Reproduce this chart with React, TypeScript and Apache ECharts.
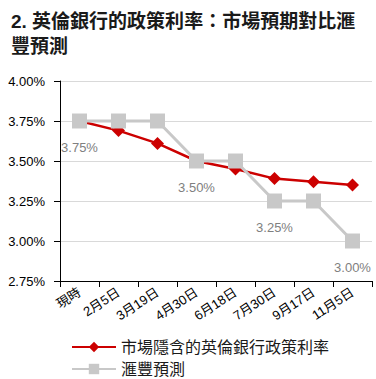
import React, { useEffect, useRef } from "react";
import * as echarts from "echarts";

const titleText = "2. 英倫銀行的政策利率：市場預期對比滙\n豐預測";
const categories = ["現時", "2月5日", "3月19日", "4月30日", "6月18日", "7月30日", "9月17日", "11月5日"];
const marketName = "市場隱含的英倫銀行政策利率";
const marketValues = [3.75, 3.69, 3.61, 3.5, 3.45, 3.39, 3.37, 3.35];
const hsbcName = "滙豐預測";
const hsbcValues = [3.75, 3.75, 3.75, 3.5, 3.5, 3.25, 3.25, 3.0];
const hsbcLabelIdx = [0, 3, 5, 7];
const yTicks = { min: 2.75, max: 4.0, interval: 0.25 };

const FONT = '"Liberation Sans", Arial, "Noto Sans CJK TC", sans-serif';

const legendBase = {
  orient: "horizontal",
  left: 66,
  itemWidth: 44,
  itemHeight: 13,
  textStyle: { fontSize: 16, color: "#1a1a1a", fontFamily: FONT },
};

export default function App() {
  const ref = useRef<HTMLDivElement>(null);
  useEffect(() => {
    const chart = echarts.init(ref.current!, null, { renderer: "svg" });
    chart.setOption({
      animation: false,
      textStyle: { fontFamily: FONT },
      title: {
        text: titleText,
        left: 6,
        top: 4,
        textStyle: { fontSize: 19, fontWeight: "bold", color: "#1a1a1a", lineHeight: 25, fontFamily: FONT },
      },
      grid: { left: 60, right: 4, top: 81, bottom: 98 },
      legend: [
        { ...legendBase, top: 334, data: [marketName] },
        { ...legendBase, top: 356, data: [hsbcName] },
      ],
      xAxis: {
        type: "category",
        data: categories,
        boundaryGap: true,
        axisLine: { lineStyle: { color: "#000", width: 1 } },
        axisTick: { show: true, length: 6, lineStyle: { color: "#000" } },
        axisLabel: { interval: 0, rotate: 33, fontSize: 13, color: "#000", margin: 10, fontFamily: FONT },
        splitLine: { show: false },
      },
      yAxis: {
        type: "value",
        min: yTicks.min,
        max: yTicks.max,
        interval: yTicks.interval,
        axisLine: { show: true, lineStyle: { color: "#000", width: 1 } },
        axisTick: { show: true, length: 6, lineStyle: { color: "#000" } },
        axisLabel: {
          fontSize: 13,
          color: "#000",
          margin: 15,
          fontFamily: FONT,
          formatter: (v: number) => v.toFixed(2) + "%",
        },
        splitLine: { show: true, lineStyle: { color: "#d9d9d9", width: 1 } },
      },
      series: [
        {
          name: marketName,
          type: "line",
          data: marketValues,
          symbol: "diamond",
          symbolSize: 13,
          itemStyle: { color: "#cc0000" },
          lineStyle: { color: "#cc0000", width: 2.5 },
          z: 2,
        },
        {
          name: hsbcName,
          type: "line",
          data: hsbcValues.map((v, i) => ({
            value: v,
            label: {
              show: hsbcLabelIdx.includes(i),
              position: "bottom",
              distance: 12,
              fontSize: 13,
              color: "#808080",
              fontFamily: FONT,
              formatter: (p: any) => Number(p.value).toFixed(2) + "%",
            },
          })),
          symbol: "rect",
          symbolSize: 15,
          itemStyle: { color: "#c8c8c8" },
          lineStyle: { color: "#c8c8c8", width: 3 },
          z: 3,
        },
      ],
    });
    return () => chart.dispose();
  }, []);
  return <div ref={ref} style={{ width: 376, height: 379, position: "absolute", left: 0, top: 0 }} />;
}
